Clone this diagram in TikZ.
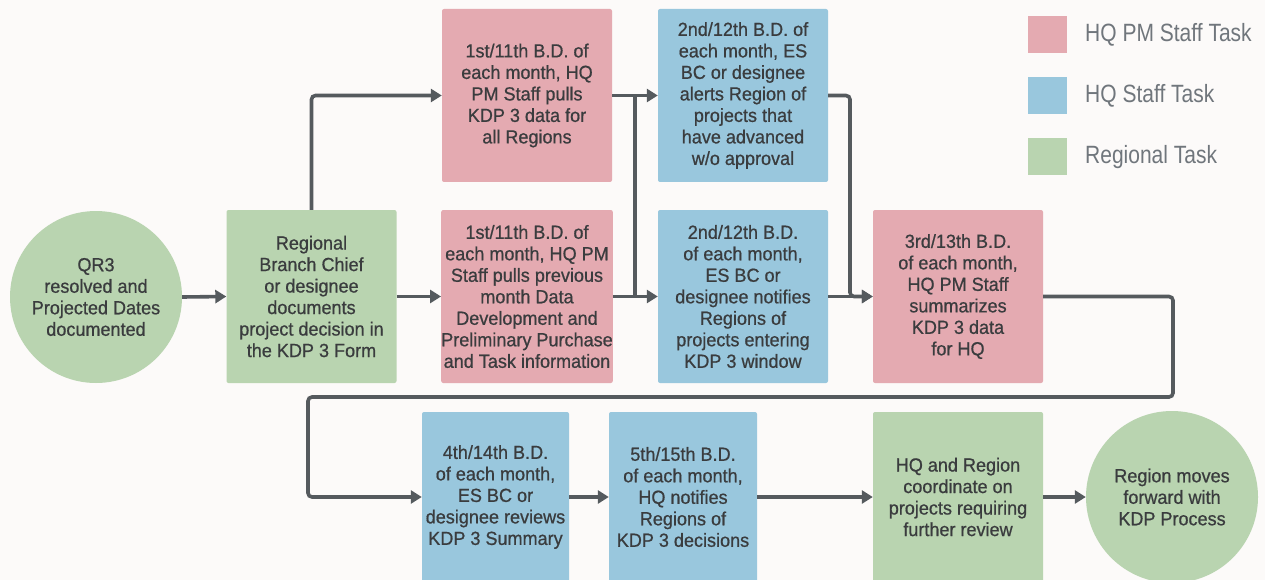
\documentclass[tikz,border=0pt]{standalone}
\usepackage{fontspec}
\setmainfont{Liberation Sans}[FakeStretch=0.95, FakeBold=0.7]
\newfontfamily\legendfont{Liberation Sans}[FakeStretch=0.84]
\usetikzlibrary{arrows.meta}
\definecolor{pmpink}{RGB}{228,170,177}
\definecolor{hqblue}{RGB}{153,199,221}
\definecolor{rgreen}{RGB}{185,212,176}
\definecolor{flowline}{RGB}{85,90,94}
\definecolor{ink}{RGB}{58,60,62}
\definecolor{legendink}{RGB}{112,118,124}
\definecolor{paper}{RGB}{252,250,249}
\tikzset{
  task/.style={rectangle, rounded corners=2pt, inner sep=0pt, align=center,
    text=ink, font=\fontsize{19}{21.5}\selectfont},
  pmtask/.style={task, fill=pmpink, minimum width=170pt, minimum height=173pt},
  hqtask/.style={task, fill=hqblue, minimum width=170pt, minimum height=173pt},
  regtask/.style={task, fill=rgreen, minimum width=170pt, minimum height=173pt},
  terminal/.style={circle, fill=rgreen, minimum size=172pt, inner sep=0pt, align=center,
    text=ink, font=\fontsize{19}{21.5}\selectfont},
  swatch/.style={rectangle, minimum width=39pt, minimum height=37pt, inner sep=0pt},
  legendtext/.style={anchor=west, text=legendink, font=\legendfont\fontsize{25}{28}\selectfont, inner sep=0pt},
  flow/.style={draw=flowline, line width=3.6pt, rounded corners=4pt},
  arr/.style={flow, -{Triangle[length=11pt,width=13pt]}}
}
\begin{document}
\begin{tikzpicture}[x=1pt,y=-1pt]
\fill[paper] (0,0) rectangle (1265,580);
\useasboundingbox (0,0) rectangle (1265,580);
\clip (0,0) rectangle (1265,580);

% top part of the flow
\node[terminal] (qr) at (96,297) {QR3\\resolved and\\Projected Dates\\documented};
\node[regtask] (reg) at (311.5,296.5) {Regional\\Branch Chief\\or designee\\documents\\project decision in\\the KDP 3 Form};
\node[pmtask] (p1) at (527,95.5) {1st/11th B.D. of\\each month, HQ\\PM Staff pulls\\KDP 3 data for\\all Regions};
\node[pmtask] (p2) at (527,296.5) {1st/11th B.D. of\\each month, HQ PM\\Staff pulls previous\\month Data\\Development and\\Preliminary Purchase\\and Task information};
\node[hqtask] (b1) at (743,95.5) {2nd/12th B.D. of\\each month, ES\\BC or designee\\alerts Region of\\projects that\\have advanced\\w/o approval};
\node[hqtask] (b2) at (743,296.5) {2nd/12th B.D.\\of each month,\\ES BC or\\designee notifies\\Regions of\\projects entering\\KDP 3 window};
\node[pmtask] (p3) at (958,296.5) {3rd/13th B.D.\\of each month,\\HQ PM Staff\\summarizes\\KDP 3 data\\for HQ};

% bottom part of the flow
\node[hqtask, minimum width=147pt, minimum height=170pt] (b4) at (495.5,497) {4th/14th B.D.\\of each month,\\ES BC or\\designee reviews\\KDP 3 Summary};
\node[hqtask, minimum width=148pt, minimum height=170pt] (b5) at (683,497) {5th/15th B.D.\\of each month,\\HQ notifies\\Regions of\\KDP 3 decisions};
\node[regtask, minimum height=170pt] (g) at (958,497) {HQ and Region\\coordinate on\\projects requiring\\further review};
\node[terminal] (fin) at (1172,497) {Region moves\\forward with\\KDP Process};

% legend
\node[swatch, fill=pmpink] (k1) at (1047.5,34.5) {};
\node[swatch, fill=hqblue] (k2) at (1047.5,96) {};
\node[swatch, fill=rgreen] (k3) at (1047.5,157) {};
\node[legendtext] (t1) at (1085,34.5) {HQ PM Staff Task};
\node[legendtext] (t2) at (1085,96) {HQ Staff Task};
\node[legendtext] (t3) at (1085,157) {Regional Task};

% routing points
\coordinate (j) at (635,200);
\coordinate (k) at (850,200);
\coordinate (rt) at (1173,397);
\coordinate (lt) at (308,397);

% connectors
\draw[arr] (qr.east) -- (reg.west);
\draw[arr] (reg.north) |- (p1.west);
\draw[arr] (reg.east) -- (p2.west);
\draw[arr] (p1.east) -- (b1.west);
\draw[arr] (p2.east) -- (b2.west);
\draw[flow] (p1.east -| j) -- (p2.east -| j);
\draw[arr] (b1.east) -| (k |- p3.west) -- (p3.west);
\draw[arr] (b2.east) -- (p3.west);
\draw[arr] (p3.east) -| (rt) -- (lt) |- (b4.west);
\draw[arr] (b4.east) -- (b5.west);
\draw[arr] (b5.east) -- (g.west);
\draw[arr] (g.east) -- (fin.west);
\end{tikzpicture}
\end{document}
